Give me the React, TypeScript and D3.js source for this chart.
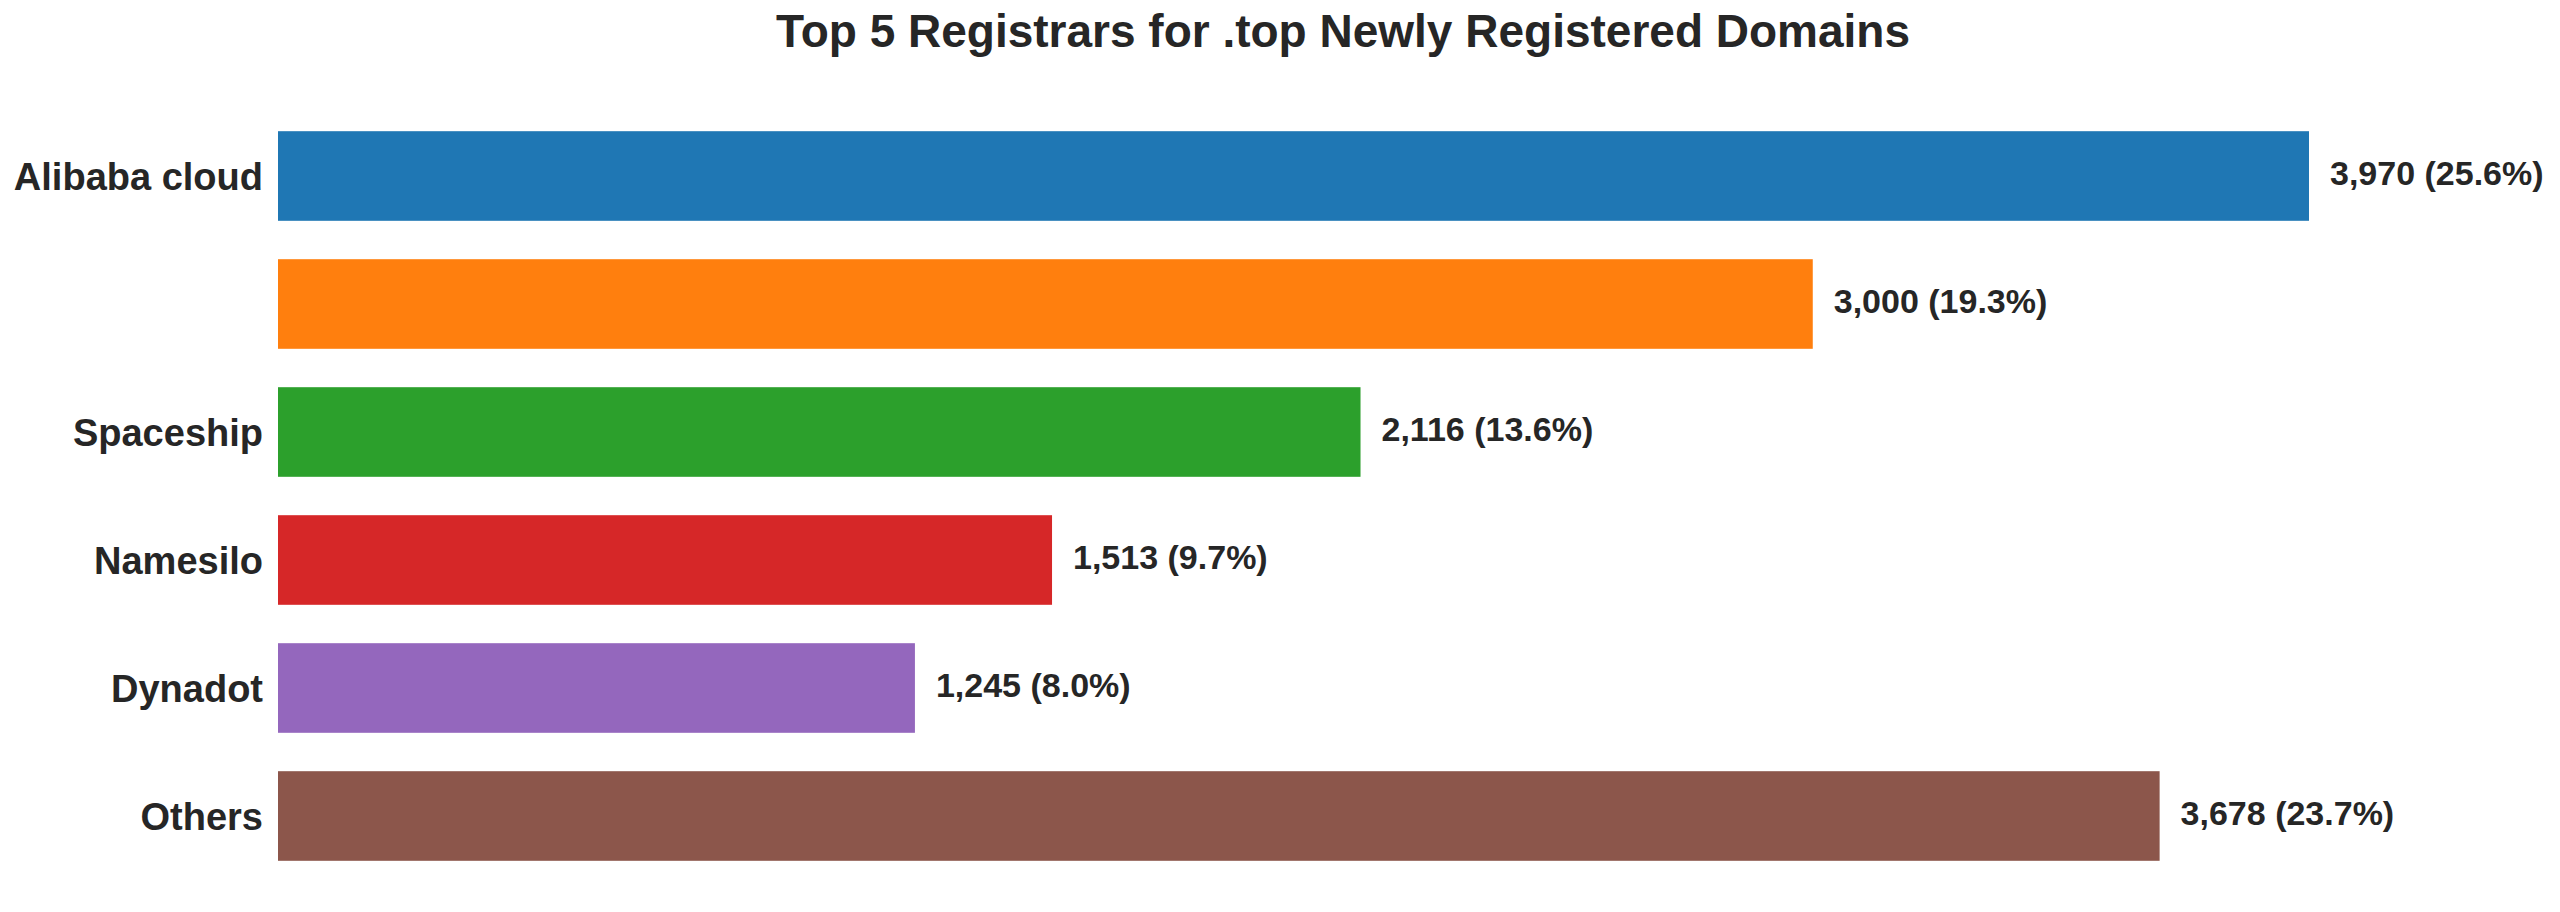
import { useEffect, useRef } from 'react';
import * as d3 from 'd3';

// Chart data
const registrars = ['Alibaba cloud', '', 'Spaceship', 'Namesilo', 'Dynadot', 'Others'];
const domainCounts = [3970, 3000, 2116, 1513, 1245, 3678];
const barColors = ['#1f77b4', '#ff7f0e', '#2ca02c', '#d62728', '#9467bd', '#8c564b'];
const chartTitle = 'Top 5 Registrars for .top Newly Registered Domains';

export default function App() {
    const svgRef = useRef<SVGSVGElement>(null);

    useEffect(() => {
        document.body.style.margin = '0';
        if (!svgRef.current) return;

        const svg = d3.select(svgRef.current);
        svg.selectAll('*').remove();

        const fontFamily = 'Arial, "Liberation Sans", Helvetica, sans-serif';
        const textColor = '#262626';

        const total = d3.sum(domainCounts);
        const indices = registrars.map((_, i) => i);

        // Scales
        const xScale = d3.scaleLinear()
            .domain([0, 4400])
            .range([278, 278 + 4400 * (2031 / 3970)]);

        const yScale = d3.scaleBand<number>()
            .domain(indices)
            .range([112, 880])
            .paddingInner(0.3)
            .paddingOuter(0.15);

        // Title
        svg.append('text')
            .attr('x', 1343)
            .attr('y', 47)
            .attr('text-anchor', 'middle')
            .attr('font-family', fontFamily)
            .attr('font-weight', 'bold')
            .attr('font-size', '46px')
            .attr('fill', textColor)
            .text(chartTitle);

        // Bars
        svg.selectAll('.bar')
            .data(indices)
            .enter()
            .append('rect')
            .attr('class', 'bar')
            .attr('x', xScale(0))
            .attr('y', i => yScale(i) || 0)
            .attr('width', i => xScale(domainCounts[i]) - xScale(0))
            .attr('height', yScale.bandwidth())
            .attr('fill', i => barColors[i]);

        // Y axis (no line, no ticks)
        const yAxis = svg.append('g')
            .attr('transform', `translate(${xScale(0)},0)`)
            .call(d3.axisLeft(yScale).tickSize(0).tickPadding(15).tickFormat(i => registrars[i as number]))
            .call(g => g.select('.domain').remove());

        yAxis.selectAll('.tick text')
            .attr('font-family', fontFamily)
            .attr('font-weight', 'bold')
            .attr('font-size', '38px')
            .attr('fill', textColor)
            .attr('dy', '0.36em');

        // Value labels
        const fmt = d3.format(',');
        svg.selectAll('.value-label')
            .data(indices)
            .enter()
            .append('text')
            .attr('class', 'value-label')
            .attr('x', i => xScale(domainCounts[i]) + 21)
            .attr('y', i => (yScale(i) || 0) + yScale.bandwidth() / 2)
            .attr('dy', '0.27em')
            .attr('font-family', fontFamily)
            .attr('font-weight', 'bold')
            .attr('font-size', '34px')
            .attr('fill', textColor)
            .text(i => `${fmt(domainCounts[i])} (${(domainCounts[i] / total * 100).toFixed(1)}%)`);
    }, []);

    return (
        <div>
            <svg
                ref={svgRef}
                width={2560}
                height={912}
                style={{ display: 'block', background: '#ffffff' }}
            />
        </div>
    );
}
